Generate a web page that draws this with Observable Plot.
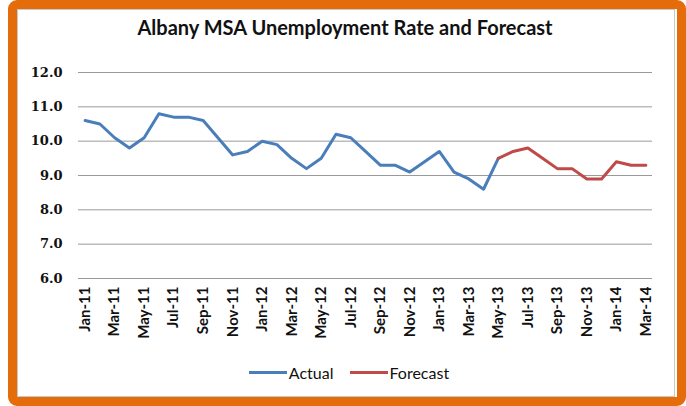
<!DOCTYPE html>
<html><head><meta charset="utf-8">
<script src="https://cdn.jsdelivr.net/npm/d3@7"></script>
<script src="https://cdn.jsdelivr.net/npm/@observablehq/plot@0.6"></script>
<style>
body{margin:0;width:686px;height:406px;overflow:hidden;background:#fff;position:relative;font-family:Lato,sans-serif;}
#frame{position:absolute;left:8px;top:0;width:660px;height:388px;border:9px solid #E46C0A;border-radius:9px;}
#inner{position:absolute;left:17px;top:9px;width:658px;height:388px;border:1px solid #c8c8c8;box-sizing:border-box;}
#chart{position:absolute;left:0;top:0;}
#title{position:absolute;top:15px;left:0;width:690px;text-align:center;font-weight:bold;font-size:20px;color:#111;}
#legend{position:absolute;top:363px;left:0;width:698px;display:flex;justify-content:center;gap:16px;font-size:16px;color:#111;}
#legend span{display:flex;align-items:center;}
#legend i{display:inline-block;width:38px;height:3px;margin-right:2px;}
</style></head>
<body>
<div id="frame"></div>
<div id="inner"></div>
<div id="chart"></div>
<div id="title">Albany MSA Unemployment Rate and Forecast</div>
<div id="legend"><span><i style="background:#4A7EBB"></i>Actual</span><span><i style="background:#BE4B48"></i>Forecast</span></div>
<script>
const months = ["Jan-11","Feb-11","Mar-11","Apr-11","May-11","Jun-11","Jul-11","Aug-11","Sep-11","Oct-11","Nov-11","Dec-11",
"Jan-12","Feb-12","Mar-12","Apr-12","May-12","Jun-12","Jul-12","Aug-12","Sep-12","Oct-12","Nov-12","Dec-12",
"Jan-13","Feb-13","Mar-13","Apr-13","May-13","Jun-13","Jul-13","Aug-13","Sep-13","Oct-13","Nov-13","Dec-13",
"Jan-14","Feb-14","Mar-14"];
const actualMonths = months.slice(0, 29);
const actualValues = [10.6,10.5,10.1,9.8,10.1,10.8,10.7,10.7,10.6,10.1,9.6,9.7,
10.0,9.9,9.5,9.2,9.5,10.2,10.1,9.7,9.3,9.3,9.1,9.4,
9.7,9.1,8.9,8.6,9.5];
const forecastMonths = months.slice(28);
const forecastValues = [9.5,9.7,9.8,9.5,9.2,9.2,8.9,8.9,9.4,9.3,9.3];
const xTickLabels = months.filter((d,i)=>i%2===0);
const yTicks = [6,7,8,9,10,11,12];

const actual = actualMonths.map((m,i)=>({month:m, value:actualValues[i]}));
const forecast = forecastMonths.map((m,i)=>({month:m, value:forecastValues[i]}));

const chart = Plot.plot({
  width:686, height:406,
  marginLeft:78, marginRight:34, marginTop:72, marginBottom:128,
  style:{background:"transparent"},
  x:{type:"point", domain:months, padding:0.45, round:false},
  y:{domain:[6,12]},
  marks:[
    Plot.gridY(yTicks,{stroke:"#9a9a9a",strokeOpacity:1,strokeWidth:1}),
    Plot.axisY(yTicks,{tickSize:0,tickPadding:16,tickFormat:d3.format(".1f"),fontFamily:"DejaVu Serif",fontWeight:"bold",fontSize:13,fill:"#111",label:null}),
    Plot.axisX(xTickLabels,{tickSize:0,tickPadding:8,tickRotate:-90,fontFamily:"Lato",fontWeight:"bold",fontSize:15,fill:"#111",label:null}),
    Plot.line(actual,{x:"month",y:"value",stroke:"#4A7EBB",strokeWidth:3}),
    Plot.line(forecast,{x:"month",y:"value",stroke:"#BE4B48",strokeWidth:3})
  ]
});
document.getElementById("chart").appendChild(chart);
</script>
</body></html>
